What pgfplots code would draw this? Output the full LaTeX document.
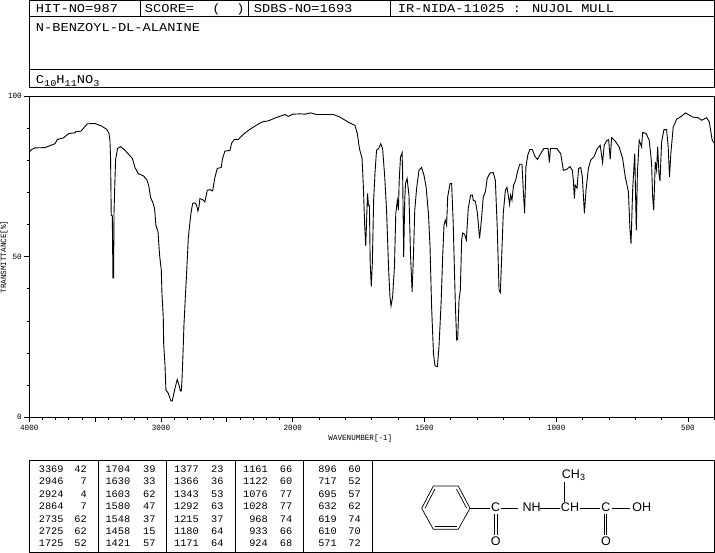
\documentclass[border=0pt]{standalone}
\usepackage{fontspec}
\usepackage{pgfplots}
\pgfplotsset{compat=1.18}
\setmainfont{Liberation Mono}
\newfontfamily\hdr[FakeStretch=1.14]{Liberation Mono}
\newfontfamily\tbl[FakeStretch=1.03]{Liberation Mono}
\newfontfamily\smol[FakeStretch=0.95]{Liberation Mono}
\newfontfamily\chem{Liberation Sans}
\newcommand{\hfs}{\hdr\fontsize{12}{12}\selectfont}
\newcommand{\sfs}{\smol\fontsize{8}{8}\selectfont}
\newcommand{\tfs}{\tbl\fontsize{10}{10}\selectfont}
\newcommand{\cfs}{\chem\fontsize{12.5}{12.5}\selectfont}
\begin{document}
\begin{tikzpicture}
\useasboundingbox (0,0) rectangle (715pt,-553pt);
\begin{axis}[
  at={(29.3pt,-417.3pt)}, anchor=south west,
  scale only axis, width=685pt, height=321.1pt,
  xmin=0, xmax=5200, ymin=0, ymax=100,
  axis line style={line width=0.9pt},
  xtick pos=bottom, ytick pos=left,
  tick align=outside,
  xtick={0,500,1000,1500,2000,3000,4000,5000},
  xticklabels={4000,,3000,,2000,1500,1000,500},
  minor xtick={100,200,300,400,600,700,800,900,1100,1200,1300,1400,1600,1700,1800,1900,2200,2400,2600,2800,3200,3400,3600,3800,4200,4400,4600,4800,5200},
  ytick={0,50,100},
  minor ytick={10,20,30,40,60,70,80,90},
  major tick length=5pt, minor tick length=2.5pt,
  tick style={black, line width=0.8pt},
  scaled ticks=false,
  /pgf/number format/assume math mode=true,
  yticklabel style={font=\sfs, xshift=1pt},
  xticklabel style={font=\sfs, yshift=1pt},
  yticklabels={0,50,100},
]
\addplot[black, line width=0.9pt, sharp plot, no markers]
 table[x expr={\thisrowno{0}>=2000 ? 4000-\thisrowno{0} : 2000+2*(2000-\thisrowno{0})}, y index=1] {
w y
4000 82.6
3982 83.4
3957 83.9
3881 84.0
3856 84.4
3805 85.2
3787 86.5
3742 87.0
3699 88.4
3653 88.6
3646 89.0
3608 89.1
3560 91.4
3502 91.5
3451 90.7
3413 89.7
3395 88.4
3388 86.3
3383 80.6
3378 62.9
3370 62.9
3365 43.4
3360 43.4
3357 63.5
3350 73.8
3345 80.1
3330 83.7
3307 84.3
3274 83.2
3218 80.6
3198 77.8
3173 75.9
3135 75.2
3109 74.1
3094 72.3
3079 68.4
3064 67.1
3049 65.0
3039 59.8
3023 57.8
3011 50.5
2998 45.8
2993 38.6
2983 31.3
2980 23.0
2970 16.3
2963 8.5
2945 7.5
2925 5.1
2915 5.1
2894 9.0
2877 11.8
2861 9.7
2854 8.2
2846 8.2
2841 11.6
2834 18.9
2826 28.7
2816 37.0
2808 43.2
2801 48.9
2793 55.7
2783 59.8
2773 63.5
2760 66.6
2743 66.8
2730 66.1
2720 64.2
2712 65.5
2705 68.1
2684 67.8
2667 67.1
2649 70.7
2629 70.9
2608 70.5
2591 74.7
2573 77.5
2543 77.8
2533 80.6
2515 82.9
2477 83.1
2464 85.4
2444 86.5
2414 86.5
2376 88.1
2325 89.7
2262 91.3
2224 92.1
2186 92.3
2135 93.2
2059 94.3
2034 93.7
2000 94.4
1973 94.5
1954 94.4
1932 94.8
1910 94.3
1846 94.3
1821 93.5
1793 92.1
1764 90.9
1755 88.4
1747 83.7
1737 80.6
1732 71.8
1727 59.8
1723 53.4
1718 65.5
1716 69.7
1713 66.1
1709 65.9
1706 47.9
1702 40.7
1698 47.9
1693 67.6
1688 75.9
1682 83.2
1674 83.7
1666 85.2
1659 83.7
1651 74.9
1644 64.5
1636 45.8
1631 37.5
1627 34.7
1621 37.5
1614 46.9
1609 63.5
1603 67.6
1599 64.5
1596 73.8
1591 81.1
1585 82.4
1583 75.9
1579 50.0
1575 67.6
1572 72.8
1566 74.4
1559 69.2
1553 50.5
1547 39.1
1542 50.0
1537 64.5
1530 71.2
1521 76.9
1511 77.8
1502 75.4
1494 71.8
1485 63.5
1479 53.1
1473 34.4
1466 19.9
1460 16.0
1451 15.8
1445 22.0
1437 35.5
1431 50.0
1426 59.8
1421 61.4
1416 59.8
1412 68.6
1403 72.8
1397 72.8
1391 60.4
1383 35.5
1378 24.1
1374 24.3
1369 36.5
1364 39.6
1359 55.2
1355 57.4
1348 57.0
1341 55.2
1334 65.0
1325 69.2
1318 69.2
1315 67.6
1307 67.3
1299 63.5
1291 55.7
1284 61.4
1277 68.6
1269 70.2
1262 74.4
1251 76.1
1239 76.2
1231 73.8
1224 59.3
1217 39.6
1212 38.9
1207 50.0
1201 63.5
1193 70.7
1187 71.6
1181 68.6
1177 66.3
1173 69.2
1168 67.6
1162 72.3
1154 73.8
1146 76.9
1138 78.8
1130 78.8
1125 70.7
1120 63.5
1115 78.0
1108 81.6
1100 83.4
1091 83.4
1081 81.3
1071 80.3
1059 82.1
1047 83.7
1031 83.7
1026 79.3
1022 83.7
998 83.7
983 82.1
973 76.9
960 77.2
948 78.1
939 76.9
935 73.8
931 68.1
928 72.3
921 71.4
915 77.5
907 77.8
901 74.9
893 63.5
887 70.7
878 77.5
869 80.1
857 81.1
844 83.7
833 84.7
824 79.3
818 84.7
809 86.1
801 86.5
795 80.3
790 87.1
777 86.1
761 84.2
748 80.6
738 74.9
726 70.2
720 58.3
716 54.1
710 70.7
702 82.1
696 58.3
692 75.9
685 86.3
676 84.2
672 88.7
659 88.4
647 86.3
638 79.0
634 68.6
630 64.5
624 79.5
619 76.9
615 84.2
610 75.9
606 73.6
600 85.8
591 89.6
581 89.6
575 84.2
570 74.9
565 82.1
556 90.4
543 92.8
524 93.8
509 94.8
482 93.5
461 93.3
448 92.5
429 93.3
419 92.0
408 86.3
400 85.4
};
\end{axis}
\begin{scope}[x=1pt,y=-1pt,line width=0.9pt]
% header
\draw (29.5,0.5) rectangle (714.5,87.3);
\draw (29.5,16.3) -- (714.5,16.3);
\draw (29.5,69.3) -- (714.5,69.3);
\draw (140,0.5) -- (140,16.3);
\draw (248.5,0.5) -- (248.5,16.3);
\draw (390.3,0.5) -- (390.3,16.3);
\node[anchor=base west,inner sep=0,font=\hfs] at (35.5,13) {HIT-NO=987};
\node[anchor=base west,inner sep=0,font=\hfs] at (144.5,13) {SCORE=};
\node[anchor=base west,inner sep=0,font=\hfs] at (212,13) {(};
\node[anchor=base west,inner sep=0,font=\hfs] at (236,13) {)};
\node[anchor=base west,inner sep=0,font=\hfs] at (253.5,13) {SDBS-NO=1693};
\node[anchor=base west,inner sep=0,font=\hfs] at (397.5,13) {IR-NIDA-11025 : NUJOL MULL};
\node[anchor=base west,inner sep=0,font=\hfs] at (35.5,31.5) {N-BENZOYL-DL-ALANINE};
\node[anchor=base west,inner sep=0,font=\hfs] at (35.5,84) {C\raisebox{-2.5pt}{\fontsize{9}{9}\selectfont 10}H\raisebox{-2.5pt}{\fontsize{9}{9}\selectfont 11}NO\raisebox{-2.5pt}{\fontsize{9}{9}\selectfont 3}};
% axis titles
\node[rotate=90,inner sep=0,font=\sfs] at (4,257) {TRANSMITTANCE[\%]};
\node[anchor=base west,inner sep=0,font=\sfs] at (328,440) {WAVENUMBER[-1]};
% table
\draw (29.5,460.5) rectangle (372.3,552.3);
\draw (372.3,460.5) rectangle (714.5,552.3);
\foreach \xx in {98.3,166.3,235.7,303.7} \draw (\xx,460.5) -- (\xx,552.3);
\foreach \yy/\a/\b/\c/\d/\e/\f/\g/\h/\i/\j in {
 472.5/3369/42/1704/39/1377/23/1161/66/896/60,
 484.8/2946/7/1630/33/1366/36/1122/60/717/52,
 497.2/2924/4/1603/62/1343/53/1076/77/695/57,
 509.6/2864/7/1580/47/1292/63/1028/77/632/62,
 522/2735/62/1548/37/1215/37/968/74/619/74,
 534.4/2725/62/1458/15/1180/64/933/66/610/70,
 546.8/1725/52/1421/57/1171/64/924/68/571/72}{
  \node[anchor=base east,inner sep=0,font=\tfs] at (64,\yy) {\a};
  \node[anchor=base east,inner sep=0,font=\tfs] at (87.3,\yy) {\b};
  \node[anchor=base east,inner sep=0,font=\tfs] at (130.7,\yy) {\c};
  \node[anchor=base east,inner sep=0,font=\tfs] at (156,\yy) {\d};
  \node[anchor=base east,inner sep=0,font=\tfs] at (199.3,\yy) {\e};
  \node[anchor=base east,inner sep=0,font=\tfs] at (224,\yy) {\f};
  \node[anchor=base east,inner sep=0,font=\tfs] at (268.3,\yy) {\g};
  \node[anchor=base east,inner sep=0,font=\tfs] at (292.7,\yy) {\h};
  \node[anchor=base east,inner sep=0,font=\tfs] at (337.3,\yy) {\i};
  \node[anchor=base east,inner sep=0,font=\tfs] at (361.3,\yy) {\j};
}
% structure
\begin{scope}[line width=0.7pt]
\draw (421.7,508.3) -- (433.3,486) -- (458.3,486) -- (470,508.3) -- (458.3,529.3) -- (433.3,529.3) -- cycle;
\draw (425,508.3) -- (435,489);
\draw (456.5,489) -- (466.7,508.3);
\draw (435,526.5) -- (456.5,526.5);
\draw (470,508) -- (490,508);
\draw (500.7,508) -- (518.3,508);
\draw (540,508) -- (560,508);
\draw (580,508) -- (600,508);
\draw (611.7,508) -- (630,508);
\draw (564,481.7) -- (564,501.7);
\draw (494.5,514) -- (494.5,535);
\draw (496.9,514) -- (496.9,535);
\draw (604.3,514) -- (604.3,535);
\draw (606.7,514) -- (606.7,535);
\end{scope}
\node[inner sep=0,font=\cfs] at (495.7,507.5) {C};
\node[inner sep=0,font=\cfs] at (495.7,540.7) {O};
\node[inner sep=0,font=\cfs] at (531.7,507.5) {NH};
\node[inner sep=0,font=\cfs] at (570,507.5) {CH};
\node[anchor=west,inner sep=0,font=\cfs] at (561.5,475) {CH\raisebox{-2.5pt}{\fontsize{9}{9}\selectfont 3}};
\node[inner sep=0,font=\cfs] at (606,507.5) {C};
\node[inner sep=0,font=\cfs] at (606,540.7) {O};
\node[inner sep=0,font=\cfs] at (641.7,507.5) {OH};
\end{scope}
\end{tikzpicture}
\end{document}
